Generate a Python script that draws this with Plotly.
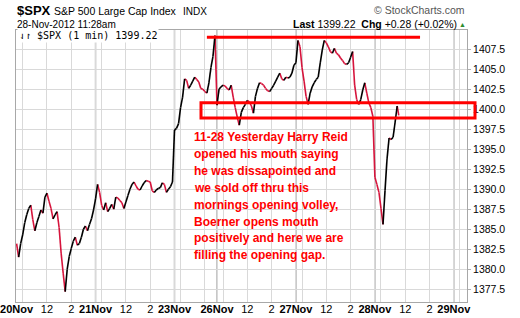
import plotly.graph_objects as go

# ---------------- data (10-minute samples) ----------------
day_labels = ["20Nov", "21Nov", "23Nov", "26Nov", "27Nov", "28Nov", "29Nov"]
session_len = [390, 390, 210, 390, 390, 390]   # minutes per session (23Nov half day)
step = 10

p_20nov = [1383.2, 1381.5, 1383.2, 1384.3, 1385.8, 1386.8, 1387.6, 1388.0, 1386.2, 1384.8,
           1385.8, 1386.6, 1387.4, 1387.0, 1389.0, 1389.5, 1388.5, 1387.6, 1386.3, 1386.8,
           1387.2, 1385.2, 1382.0, 1379.5, 1377.2, 1380.0, 1381.6, 1382.6, 1383.5, 1384.0,
           1383.0, 1383.2, 1384.0, 1385.0, 1385.4, 1384.8, 1385.6, 1386.3, 1387.4]
p_21nov = [1388.8, 1390.6, 1389.6, 1388.0, 1387.4, 1388.3, 1387.2, 1387.6, 1388.1, 1387.5,
           1389.0, 1388.9, 1388.6, 1388.3, 1387.6, 1388.4, 1389.2, 1390.0, 1390.6, 1390.9,
           1390.4, 1390.0, 1389.9, 1390.4, 1390.8, 1391.1, 1391.0, 1390.9, 1389.8, 1389.6,
           1389.9, 1390.1, 1390.2, 1390.8, 1390.6, 1389.6, 1390.0, 1390.3, 1390.9]
p_23nov = [1397.4, 1397.6, 1398.2, 1400.2, 1401.5, 1403.8, 1403.6, 1402.6, 1403.0, 1403.5,
           1404.0, 1403.7, 1403.4, 1402.6, 1402.5, 1402.2, 1402.0, 1403.3, 1405.2, 1406.6,
           1409.2]
p_26nov = [1400.5, 1402.5, 1402.8, 1403.0, 1402.9, 1402.6, 1402.4, 1403.0, 1401.5, 1400.2,
           1399.0, 1398.0, 1399.6, 1400.2, 1400.6, 1401.1, 1400.9, 1400.4, 1399.5, 1401.6,
           1402.6, 1403.3, 1403.2, 1403.0, 1402.6, 1402.3, 1402.2, 1402.6, 1403.0, 1403.5,
           1404.0, 1404.5, 1403.8, 1403.6, 1404.0, 1403.9, 1404.0, 1404.5, 1405.5]
p_27nov = [1405.8, 1408.6, 1407.8, 1405.2, 1403.5, 1401.6, 1400.6, 1402.0, 1402.8, 1403.3,
           1403.7, 1404.0, 1405.8, 1407.4, 1408.6, 1408.3, 1407.8, 1407.2, 1407.0, 1407.6,
           1407.0, 1406.8, 1406.4, 1406.1, 1405.7, 1405.6, 1405.8, 1406.5, 1407.2, 1403.0,
           1401.2, 1400.6, 1401.2, 1402.4, 1403.3, 1402.0, 1400.8, 1400.2, 1399.1]
p_28nov = [1391.5, 1390.6, 1389.6, 1387.6, 1385.6, 1389.8, 1393.8, 1396.4, 1396.2, 1396.5,
           1398.4, 1400.4, 1399.22]
m_28nov = [0, 10, 20, 30, 40, 50, 60, 70, 80, 90, 100, 110, 118]

last_price = "1399.22"
resistance = 1409.0
gap_box = (1398.9, 1400.8)

# ---------------- build x (session-minute index, no overnight gaps) ----------------
day_start = [0]
for L in session_len:
    day_start.append(day_start[-1] + L)

series = [p_20nov, p_21nov, p_23nov, p_26nov, p_27nov]
xs, ys = [], []
for d, p in enumerate(series):
    for i, v in enumerate(p):
        xs.append(day_start[d] + i * step)
        ys.append(v)
for m, v in zip(m_28nov, p_28nov):
    xs.append(day_start[5] + m)
    ys.append(v)

up_x, up_y, dn_x, dn_y = [], [], [], []
for i in range(1, len(xs)):
    if ys[i] >= ys[i - 1]:
        up_x += [xs[i - 1], xs[i], None]; up_y += [ys[i - 1], ys[i], None]
    else:
        dn_x += [xs[i - 1], xs[i], None]; dn_y += [ys[i - 1], ys[i], None]

fig = go.Figure()
fig.add_trace(go.Scatter(x=dn_x, y=dn_y, mode="lines", line=dict(color="#d6143c", width=1.6),
                         hoverinfo="skip"))
fig.add_trace(go.Scatter(x=up_x, y=up_y, mode="lines", line=dict(color="#000000", width=1.6),
                         hoverinfo="skip"))

# ---------------- axes ----------------
XR = [-3, 2225]
YR = [1375.9, 1409.9]
FONT = "Liberation Sans, Arial, sans-serif"

tickvals, ticktext = [], []
minor_vals = []
for d, lab in enumerate(day_labels):
    s = day_start[d]
    tickvals.append(s); ticktext.append("<b>%s</b>" % lab)
    minor_vals.append(s + 30)
    if d < len(session_len):
        if session_len[d] >= 390:
            tickvals += [s + 150, s + 270]; ticktext += ["12", "2"]
        else:
            minor_vals.append(s + 150)

fig.update_xaxes(range=XR, tickmode="array", tickvals=tickvals, ticktext=ticktext,
                 showgrid=True, gridcolor="#d9d9d9", gridwidth=1, zeroline=False,
                 ticks="", showline=True, linecolor="#a8a8a8", mirror=True, automargin=False,
                 ticklabelstandoff=-3,
                 tickfont=dict(family=FONT, size=11, color="#000"),
                 minor=dict(tickmode="array", tickvals=minor_vals, showgrid=True,
                            gridcolor="#d9d9d9", gridwidth=1))
fig.update_yaxes(range=YR, side="right", tick0=1377.5, dtick=2.5, tickformat=".1f",
                 showgrid=True, gridcolor="#d9d9d9", gridwidth=1, zeroline=False,
                 ticks="outside", ticklen=3, tickcolor="#b0b0b0", automargin=False,
                 showline=True, linecolor="#a8a8a8", mirror=True,
                 tickfont=dict(family=FONT, size=10.5, color="#000"))

# darker day-boundary grid lines
for s in day_start[1:]:
    fig.add_shape(type="line", xref="x", yref="paper", x0=s, x1=s, y0=0, y1=1,
                  line=dict(color="#b4b4b4", width=1.5), layer="below")

# ---------------- pixel helpers for annotations ----------------
L_, R_, T_, B_ = 16, 467, 30, 302
def fx(px):
    return (px - L_) / (R_ - L_)
def fy(py):
    return (B_ - py) / (B_ - T_)
def py_of(price):
    return (price - YR[0]) / (YR[1] - YR[0])

# red hand-drawn markup
fig.add_shape(type="line", xref="x", yref="y", x0=940, x1=1993, y0=resistance, y1=resistance,
              line=dict(color="#ff0000", width=3))
fig.add_shape(type="rect", xref="paper", yref="paper", x0=fx(201), x1=fx(475),
              y0=py_of(gap_box[0]), y1=py_of(gap_box[1]),
              line=dict(color="#ff0000", width=3), fillcolor="rgba(0,0,0,0)")

note_lines = ["11-28 Yesterday Harry Reid", "opened his mouth saying", "he was dissapointed and",
              "we sold off thru this", "mornings opening volley,", "Boerner opens mouth",
              "positively and here we are", "filling the opening gap."]
for i, t in enumerate(note_lines):
    fig.add_annotation(xref="paper", yref="paper", x=fx(192), y=fy(137 + i * 16.9),
                       xanchor="left", yanchor="middle", text="<b>%s</b>" % t, showarrow=False,
                       font=dict(family=FONT, size=12, color="#ff0000"))

# header texts
def ann(text, x, y, xanchor="left", size=11, color="#000", family=FONT, **kw):
    fig.add_annotation(xref="paper", yref="paper", x=fx(x), y=fy(y), xanchor=xanchor,
                       yanchor="middle", text=text, showarrow=False,
                       font=dict(family=family, size=size, color=color), **kw)

ann("<b>$SPX</b>", 15, 10.5, size=13)
ann("S&P 500 Large Cap Index", 52, 11, size=10.5)
ann("INDX", 180.5, 11, size=10)
ann("28-Nov-2012 11:28am", 15, 24.5, size=10)
ann("© StockCharts.com", 467, 10.5, xanchor="right", size=10.5, color="#555555")
ann("<b>Last</b> %s  <b>Chg</b> +0.28 (+0.02%%)" % last_price, 459, 24, xanchor="right", size=10.5)
ann("▲", 468, 24.5, xanchor="right", size=7, color="#2e8b2e")
ann("⇃↾ $SPX (1 min) %s" % last_price, 17, 35.5, size=10, family="DejaVu Sans Mono, monospace",
    bgcolor="#ffffff", borderpad=1)

fig.update_layout(width=520, height=318, margin=dict(l=16, r=53, t=30, b=16),
                  plot_bgcolor="#ffffff", paper_bgcolor="#ffffff", showlegend=False)

fig.write_html("out.html")
